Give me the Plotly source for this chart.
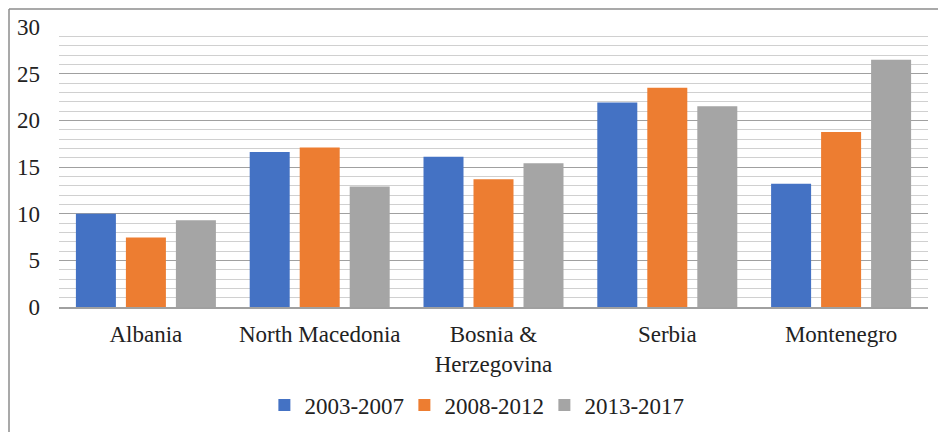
"""Bar chart: values by country and period"""

import plotly.graph_objects as go

countries = ['Albania', 'North Macedonia', 'Bosnia &<br>Herzegovina', 'Serbia', 'Montenegro']
periods = ['2003-2007', '2008-2012', '2013-2017']
values_2003_2007 = [10.0, 16.6, 16.1, 21.9, 13.2]
values_2008_2012 = [7.45, 17.1, 13.7, 23.5, 18.75]
values_2013_2017 = [9.3, 12.9, 15.4, 21.5, 26.5]
y_ticks = [0, 5, 10, 15, 20, 25, 30]

COLORS = ['#4472C4', '#ED7D31', '#A5A5A5']
FONT = 'Liberation Serif, Times New Roman, serif'
FS = 23

# the page body adds an 8px offset, so margins are shifted to compensate
OFF = 8
W, H = 946, 432
L, R, T, B = 59 - OFF, 18 + OFF, 27 - OFF, 125 + OFF
pw, ph = W - L - R, H - T - B


def px_x(p):
    return (p - OFF - L) / pw


def px_y(p):
    return (H - B - (p - OFF)) / ph


fig = go.Figure()
for name, vals, col in zip(periods, [values_2003_2007, values_2008_2012, values_2013_2017], COLORS):
    fig.add_trace(go.Bar(
        x=countries, y=vals, name=name,
        marker=dict(color=col, line=dict(width=0))
    ))

# outer chart border (only top and left visible in the crop)
bx, by = px_x(OFF + 1), px_y(OFF + 1)
fig.add_shape(type='line', xref='paper', yref='paper', x0=bx, x1=bx, y0=-1, y1=by,
              line=dict(color='#8c8c8c', width=1.5))
fig.add_shape(type='line', xref='paper', yref='paper', x0=bx, x1=1.2, y0=by, y1=by,
              line=dict(color='#8c8c8c', width=1.5))

fig.update_layout(
    width=W, height=H,
    margin=dict(l=L, r=R, t=T, b=B, autoexpand=False),
    paper_bgcolor='white', plot_bgcolor='white',
    barmode='group', bargap=0.137, bargroupgap=0.2,
    font=dict(family=FONT, size=FS, color='#222222'),
    showlegend=True,
    legend=dict(
        orientation='h', x=0.478, xanchor='center', y=px_y(405), yanchor='middle',
        font=dict(family=FONT, size=FS, color='#222222'),
        entrywidth=95, entrywidthmode='pixels', itemwidth=30,
        traceorder='normal'
    ),
    xaxis=dict(
        showgrid=False, showline=True, linecolor='#a0a0a0', linewidth=1.5,
        ticks='', ticklabelstandoff=6, automargin=False,
        tickfont=dict(family=FONT, size=FS, color='#222222')
    ),
    yaxis=dict(
        range=[0, 30], tickvals=y_ticks, showgrid=True, gridcolor='#a0a0a0', gridwidth=1,
        zeroline=False, showline=False, ticks='', ticklabelstandoff=18, automargin=False,
        tickfont=dict(family=FONT, size=FS, color='#222222'),
        minor=dict(dtick=1, showgrid=True, gridcolor='#d0d0d0', gridwidth=1)
    ),
)

fig.write_html("out.html")
